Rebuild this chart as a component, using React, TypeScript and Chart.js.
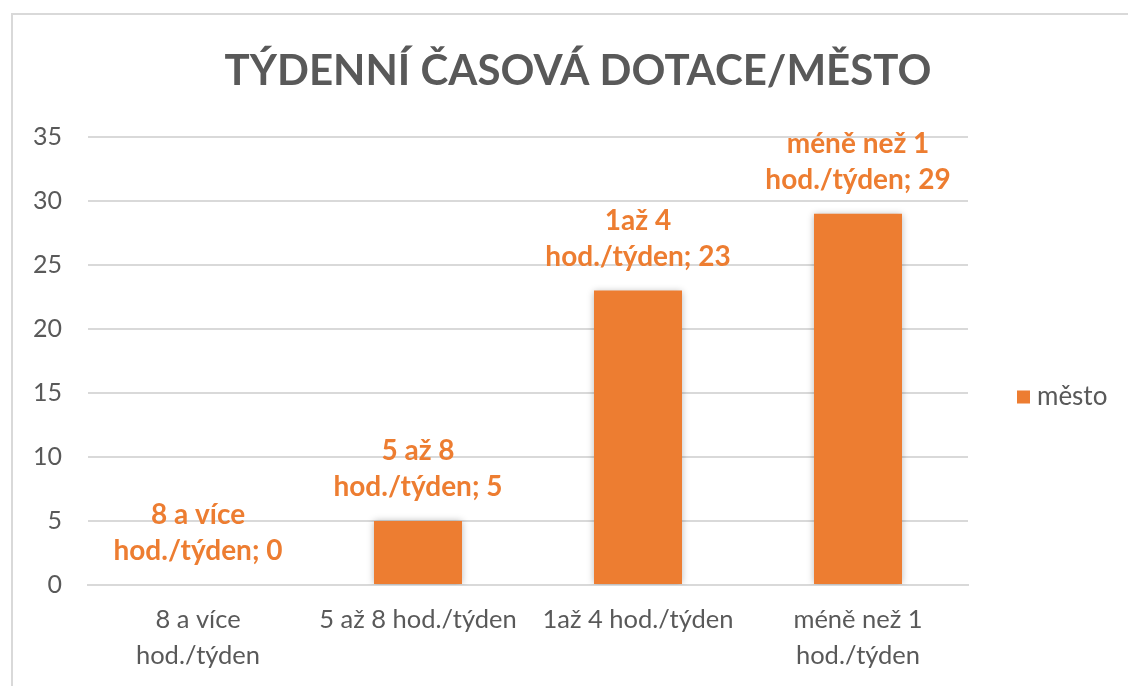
import React, { useEffect, useRef } from "react";
import { Chart, registerables } from "chart.js";

Chart.register(...registerables);

const TITLE = "TÝDENNÍ ČASOVÁ DOTACE/MĚSTO";
const SERIES_NAME = "město";
const CATEGORIES = [
  "8 a více hod./týden",
  "5 až 8 hod./týden",
  "1až 4 hod./týden",
  "méně než 1 hod./týden",
];
const CATEGORY_LINES = [
  ["8 a více", "hod./týden"],
  ["5 až 8 hod./týden"],
  ["1až 4 hod./týden"],
  ["méně než 1", "hod./týden"],
];
const VALUES = [0, 5, 23, 29];
const Y_MIN = 0;
const Y_MAX = 35;
const Y_STEP = 5;

const ORANGE = "#ED7D31";
const GRAY_TEXT = "#595959";
const GRID = "#d9d9d9";
const FONT = "Lato, 'Open Sans', sans-serif";

export default function App() {
  const ref = useRef<HTMLCanvasElement | null>(null);

  useEffect(() => {
    if (!ref.current) return;

    const decor = {
      id: "decor",
      beforeDraw(chart: any) {
        const ctx = chart.ctx;
        ctx.save();
        ctx.fillStyle = "#ffffff";
        ctx.fillRect(0, 0, chart.width, chart.height);
        ctx.strokeStyle = GRID;
        ctx.lineWidth = 2;
        ctx.strokeRect(12, 14, chart.width + 40, chart.height + 40);
        // title
        ctx.fillStyle = GRAY_TEXT;
        ctx.font = `bold 42px ${FONT}`;
        ctx.textAlign = "center";
        ctx.textBaseline = "middle";
        ctx.fillText(TITLE, 578, 71);
        ctx.restore();
      },
      beforeDatasetsDraw(chart: any) {
        const ctx = chart.ctx;
        ctx.save();
        ctx.shadowColor = "rgba(0,0,0,0.28)";
        ctx.shadowBlur = 7;
        ctx.shadowOffsetX = 0;
        ctx.shadowOffsetY = 0;
      },
      afterDatasetsDraw(chart: any) {
        const ctx = chart.ctx;
        ctx.restore();
        ctx.save();
        const meta = chart.getDatasetMeta(0);
        ctx.fillStyle = ORANGE;
        ctx.font = `bold 28px ${FONT}`;
        ctx.textAlign = "center";
        ctx.textBaseline = "middle";
        meta.data.forEach((el: any, i: number) => {
          const cat = CATEGORIES[i];
          const idx = cat.indexOf(" hod.");
          const line1 = cat.slice(0, idx);
          const line2 = cat.slice(idx + 1) + "; " + VALUES[i];
          ctx.fillText(line1, el.x, el.y - 70);
          ctx.fillText(line2, el.x, el.y - 34);
        });
        // legend
        const area = chart.chartArea;
        const lx = area.right + 49;
        const ly = 397;
        ctx.fillStyle = ORANGE;
        ctx.fillRect(lx, ly - 6.5, 13, 13);
        ctx.fillStyle = GRAY_TEXT;
        ctx.font = `26px ${FONT}`;
        ctx.textAlign = "left";
        ctx.fillText(chart.data.datasets[0].label, lx + 20, ly);
        ctx.restore();
      },
    };

    const chart = new Chart(ref.current, {
      type: "bar",
      data: {
        labels: CATEGORY_LINES,
        datasets: [
          {
            label: SERIES_NAME,
            data: VALUES,
            backgroundColor: ORANGE,
            borderWidth: 0,
            categoryPercentage: 0.8,
            barPercentage: 0.5,
          },
        ],
      },
      options: {
        responsive: false,
        animation: false,
        layout: { padding: { top: 137, right: 160, left: 0, bottom: 0 } },
        plugins: {
          legend: { display: false },
          title: { display: false },
          tooltip: { enabled: false },
        },
        scales: {
          x: {
            grid: { display: false, drawTicks: false },
            border: { color: GRID, width: 2 },
            ticks: {
              color: GRAY_TEXT,
              font: { family: FONT, size: 25.5, lineHeight: 36 / 25.5 },
              padding: 17,
              maxRotation: 0,
              autoSkip: false,
            },
            afterFit(scale: any) {
              scale.height = 101;
            },
          },
          y: {
            min: Y_MIN,
            max: Y_MAX,
            ticks: {
              stepSize: Y_STEP,
              color: GRAY_TEXT,
              font: { family: FONT, size: 25 },
              padding: 26,
            },
            grid: { color: GRID, lineWidth: 2, drawTicks: false },
            border: { display: false },
            afterFit(scale: any) {
              scale.width = 88;
            },
          },
        },
      },
      plugins: [decor],
    });

    return () => chart.destroy();
  }, []);

  return (
    <div style={{ position: "absolute", left: 0, top: 0, width: 1128, height: 686 }}>
      <canvas ref={ref} width={1128} height={686} style={{ display: "block" }} />
    </div>
  );
}
